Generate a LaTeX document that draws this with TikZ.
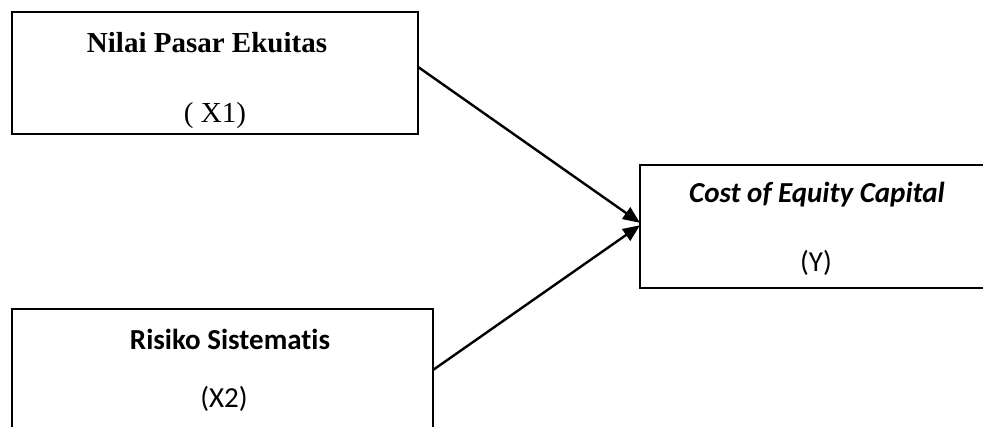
\documentclass[tikz,border=0pt]{standalone}
\usepackage{fontspec}
\setmainfont{Liberation Serif}
\newfontfamily\calib[Ligatures=NoCommon]{Carlito}
\usetikzlibrary{arrows.meta,calc}
\tikzset{
  boxshape/.style={draw=black,line width=2.4pt,fill=none},
  lbl/.style={anchor=base,inner sep=0pt,font=\fontsize{29}{34}\selectfont},
  conn/.style={line width=2.4pt,-{Triangle[length=17pt,width=14pt]}}
}
\begin{document}
\begin{tikzpicture}[x=1pt,y=-1pt]
\useasboundingbox (0,0) rectangle (983,427);
\clip (0,0) rectangle (983,427);
\fill[white] (0,0) rectangle (983,427);
% boxes
\draw[boxshape] (12,12) rectangle (418,134);
\coordinate (b1ne) at (418,12);
\coordinate (b1se) at (418,134);
\draw[boxshape] (12,309) rectangle (433,470);
\coordinate (b2ne) at (433,309);
\coordinate (b2se) at (433,431);
\draw[boxshape] (640,165) rectangle (1010,288);
\coordinate (b3nw) at (640,165);
\coordinate (b3sw) at (640,288);
% texts
\node[lbl] (t1) at (207,53) {\bfseries Nilai Pasar Ekuitas};
\node[lbl] (t1b) at (215,123) {( X1)};
\node[lbl] (t2) at (230,350) {\calib\bfseries Risiko Sistematis};
\node[lbl] (t2b) at (224,408) {\calib (X2)};
\node[lbl] (t3) at (817,203) {\calib\bfseries\itshape Cost of Equity Capital};
\node[lbl] (t3b) at (816,272) {\calib (Y)};
% connectors
\coordinate (s1) at ($(b1ne)!0.45!(b1se)$);
\coordinate (s2) at ($(b2ne)!0.5!(b2se)$);
\coordinate (e1) at ($(b3nw)!0.47!(b3sw)$);
\coordinate (e2) at ($(b3nw)!0.49!(b3sw)$);
\draw[conn] (s1) -- (e1);
\draw[conn] (s2) -- (e2);
\end{tikzpicture}
\end{document}
